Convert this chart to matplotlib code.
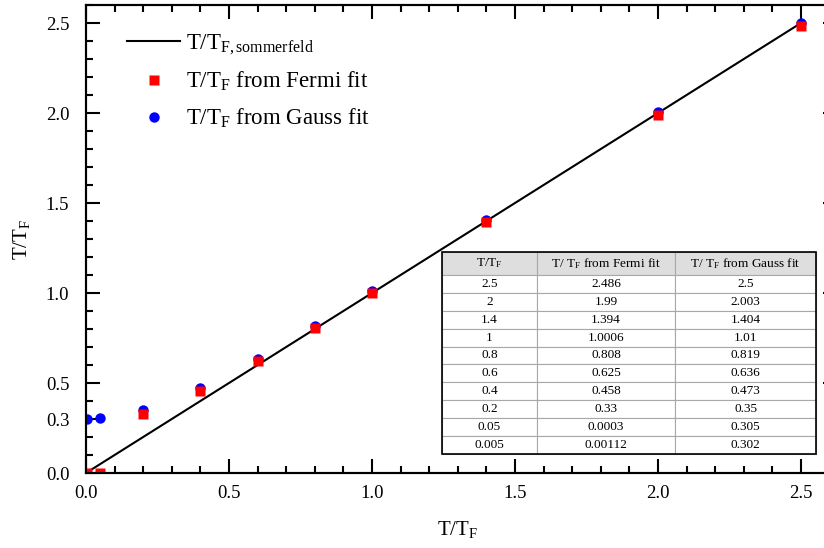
import numpy as np
import matplotlib
matplotlib.use("Agg")
import matplotlib.pyplot as plt
from matplotlib.ticker import MultipleLocator, FixedLocator
from matplotlib.patches import Rectangle

plt.rcParams['font.family'] = ['Liberation Serif', 'DejaVu Serif']
plt.rcParams['mathtext.fontset'] = 'custom'
plt.rcParams['mathtext.rm'] = 'Liberation Serif'
plt.rcParams['mathtext.it'] = 'Liberation Serif:italic'

# data (T/T_F values)
t_true = [2.5, 2, 1.4, 1, 0.8, 0.6, 0.4, 0.2, 0.05, 0.005]
t_fermi = [2.486, 1.99, 1.394, 1.0006, 0.808, 0.625, 0.458, 0.33, 0.0003, 0.00112]
t_gauss = [2.5, 2.003, 1.404, 1.01, 0.819, 0.636, 0.473, 0.35, 0.305, 0.302]

true_labels = ["2.5", "2", "1.4", "1", "0.8", "0.6", "0.4", "0.2", "0.05", "0.005"]
fermi_labels = ["2.486", "1.99", "1.394", "1.0006", "0.808", "0.625", "0.458", "0.33", "0.0003", "0.00112"]
gauss_labels = ["2.5", "2.003", "1.404", "1.01", "0.819", "0.636", "0.473", "0.35", "0.305", "0.302"]
col_labels = [r"T/T$_\mathregular{F}$", r"T/ T$_\mathregular{F}$ from Fermi fit",
              r"T/ T$_\mathregular{F}$ from Gauss fit"]

fig = plt.figure(figsize=(8.24, 5.48), dpi=100)
ax = fig.add_axes([86/824, 75/548, 743.6/824, 468/548])

x = np.array(t_true)
order = np.argsort(x)
ax.plot(x[order], x[order], color='black', lw=1.5,
        label=r"T/T$_\mathregular{F,sommerfeld}$", zorder=2)
ax.plot(t_true, t_gauss, 'o', color='#0000ff', ms=7.5, mec='none',
        label=r"T/T$_\mathregular{F}$ from Gauss fit", zorder=3)
ax.plot(t_true, t_fermi, 's', color='#ff0000', ms=7.2, mec='none',
        label=r"T/T$_\mathregular{F}$ from Fermi fit", zorder=4)

ax.set_xlim(0, 2.6)
ax.set_ylim(0, 2.6)
ax.xaxis.set_major_locator(MultipleLocator(0.5))
ax.xaxis.set_minor_locator(MultipleLocator(0.1))
ax.yaxis.set_major_locator(FixedLocator([0, 0.3, 0.5, 1.0, 1.5, 2.0, 2.5]))
ax.yaxis.set_minor_locator(MultipleLocator(0.1))
ax.set_yticklabels(["0.0", "0.3", "0.5", "1.0", "1.5", "2.0", "2.5"])
ax.tick_params(which='both', direction='in', top=True, right=False, width=1.5, labelsize=13.5)
ax.tick_params(which='major', length=10)
ax.tick_params(which='minor', length=5)
ax.tick_params(axis='y', pad=12)
ax.tick_params(axis='x', pad=9)
for s in ax.spines.values():
    s.set_linewidth(1.5)

ax2 = ax.twinx()
ax2.set_ylim(0, 2.6)
ax2.yaxis.set_major_locator(MultipleLocator(0.5))
ax2.tick_params(direction='in', length=5, width=1.5, labelright=False)
for s in ax2.spines.values():
    s.set_linewidth(1.5)

ax.set_xlabel(r"T/T$_\mathregular{F}$", fontsize=15, labelpad=12)
ax.set_ylabel(r"T/T$_\mathregular{F}$", fontsize=15, labelpad=10)

h, l = ax.get_legend_handles_labels()
ax.legend([h[0], h[2], h[1]], [l[0], l[2], l[1]], loc='upper left',
          bbox_to_anchor=(0.028, 0.985), frameon=False, fontsize=16.5,
          handlelength=2.3, handletextpad=0.25, labelspacing=0.58)

# table
rows = [[a, b, c] for a, b, c in zip(true_labels, fermi_labels, gauss_labels)]
tbl = ax.table(cellText=rows, colLabels=col_labels, cellLoc='center',
               colWidths=[0.254, 0.369, 0.377],
               bbox=[0.4788, 0.0406, 0.503, 0.4316], zorder=5)
tbl.auto_set_font_size(False)
tbl.set_fontsize(9.5)
for (r, c), cell in tbl.get_celld().items():
    cell.set_edgecolor('#a8a8a8')
    cell.set_linewidth(0.8)
    if r == 0:
        cell.set_facecolor('#dedede')
        cell.set_height(cell.get_height() * 23 / 18)
ax.add_patch(Rectangle((0.4788, 0.0406), 0.503, 0.4316, transform=ax.transAxes,
                       fill=False, ec='black', lw=1.2, zorder=6))

fig.savefig("out.png", dpi=100)
